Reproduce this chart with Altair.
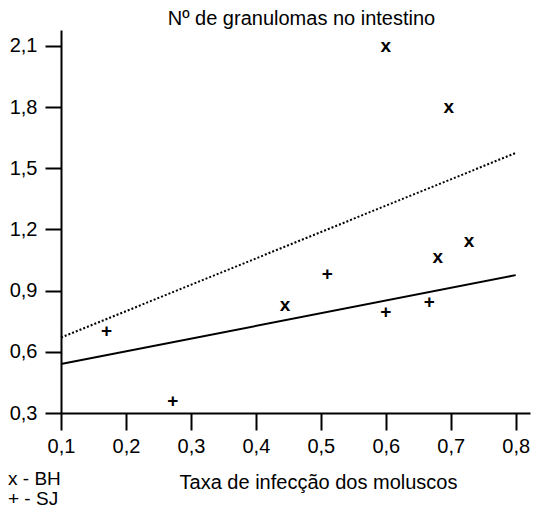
import altair as alt
import pandas as pd

# Data
bh_x = [0.445, 0.60, 0.68, 0.697, 0.728]
bh_y = [0.83, 2.10, 1.065, 1.80, 1.145]
sj_x = [0.17, 0.272, 0.51, 0.60, 0.667]
sj_y = [0.70, 0.36, 0.98, 0.795, 0.845]

line_x = [0.1, 0.8]
dotted_y = [0.67, 1.575]
solid_y = [0.54, 0.976]

x_ticks = [0.1, 0.2, 0.3, 0.4, 0.5, 0.6, 0.7, 0.8]
y_ticks = [0.3, 0.6, 0.9, 1.2, 1.5, 1.8, 2.1]
legend_labels = ["x - BH", "+ - SJ"]

FONT = "Liberation Sans"
FS = 20

bh = pd.DataFrame({"x": bh_x, "y": bh_y})
sj = pd.DataFrame({"x": sj_x, "y": sj_y})
dotted = pd.DataFrame({"x": line_x, "y": dotted_y})
solid = pd.DataFrame({"x": line_x, "y": solid_y})

label_expr = "replace(format(datum.value, '.1f'), '.', ',')"

xscale = alt.Scale(domain=[0.1, 0.822], nice=False, zero=False)
yscale = alt.Scale(domain=[0.3, 2.178], nice=False, zero=False)

xaxis = alt.Axis(values=x_ticks, labelExpr=label_expr, grid=False,
                 tickSize=17, tickWidth=2, domainWidth=2,
                 tickColor="black", domainColor="black",
                 labelFont=FONT, labelFontSize=FS, labelColor="black",
                 labelPadding=6, labelFlush=False, labelOverlap=False,
                 title="Taxa de infecção dos moluscos",
                 titleFont=FONT, titleFontSize=FS, titleFontWeight="normal",
                 titleColor="black", titleX=257, titleY=69,
                 titleBaseline="middle", titleAlign="center")
yaxis = alt.Axis(values=y_ticks, labelExpr=label_expr, grid=False,
                 tickSize=16, tickWidth=2, domainWidth=2,
                 tickColor="black", domainColor="black",
                 labelFont=FONT, labelFontSize=FS, labelColor="black",
                 labelPadding=8, labelFlush=False, labelOverlap=False,
                 title=None)

X = alt.X("x:Q", scale=xscale, axis=xaxis)
Y = alt.Y("y:Q", scale=yscale, axis=yaxis)

dotted_line = alt.Chart(dotted).mark_line(color="black", strokeWidth=2,
                                          strokeDash=[2, 2]).encode(x=X, y=Y)
solid_line = alt.Chart(solid).mark_line(color="black", strokeWidth=2).encode(x=X, y=Y)

bh_pts = alt.Chart(bh).mark_text(text="x", font=FONT, fontSize=19, fontWeight="bold",
                                 baseline="middle", align="center",
                                 color="black").encode(x=X, y=Y)
sj_pts = alt.Chart(sj).mark_text(text="+", font=FONT, fontSize=19, fontWeight="bold",
                                 baseline="middle", align="center",
                                 color="black").encode(x=X, y=Y)

leg_df = pd.DataFrame({"t": legend_labels})
leg1 = alt.Chart(leg_df.iloc[[0]]).mark_text(font=FONT, fontSize=19, align="left",
                                             baseline="middle", color="black").encode(
    text="t:N", x=alt.value(-53), y=alt.value(449))
leg2 = alt.Chart(leg_df.iloc[[1]]).mark_text(font=FONT, fontSize=19, align="left",
                                             baseline="middle", color="black").encode(
    text="t:N", x=alt.value(-53), y=alt.value(469))

chart = alt.layer(dotted_line, solid_line, bh_pts, sj_pts, leg1, leg2).properties(
    width=469, height=383,
    autosize="none",
    padding={"left": 53, "top": 22, "right": 1, "bottom": 96},
    title=alt.TitleParams("Nº de granulomas no intestino", font=FONT, fontSize=FS,
                          fontWeight="normal", color="black", anchor="middle",
                          frame="group", dx=6, offset=1),
).configure_view(stroke=None)

chart.save("out.html", embed_options={"renderer": "svg", "actions": False})
